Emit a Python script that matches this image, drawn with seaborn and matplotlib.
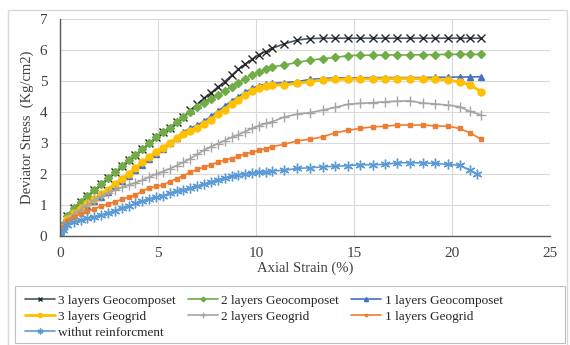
import numpy as np
import pandas as pd
import matplotlib
matplotlib.use('Agg')
import matplotlib.pyplot as plt
import seaborn as sns
from matplotlib.patches import Rectangle

# axial strain (%) shared by every test
strain = [0, 0.15, 0.35, 0.7, 1.05, 1.4, 1.75, 2.1, 2.45, 2.8, 3.15, 3.5, 3.85, 4.2, 4.55, 4.9,
          5.25, 5.6, 5.95, 6.3, 6.65, 7.0, 7.35, 7.7, 8.05, 8.4, 8.75, 9.1, 9.45, 9.8, 10.15, 10.5,
          10.8, 11.45, 12.1, 12.75, 13.4, 14.05, 14.7, 15.3, 15.95, 16.6, 17.2, 17.85, 18.5,
          19.15, 19.8, 20.4, 20.9, 21.5]
strain_unreinf = strain[:-1] + [21.25]

geocomp_3 = [0, 0.35, 0.65, 0.9, 1.1, 1.3, 1.48, 1.67, 1.87, 2.05, 2.25, 2.45, 2.62, 2.8, 3.0, 3.18,
             3.35, 3.5, 3.67, 3.84, 4.05, 4.25, 4.45, 4.62, 4.8, 4.98, 5.18, 5.38, 5.55, 5.7, 5.85, 5.95,
             6.05, 6.2, 6.32, 6.37, 6.38, 6.38, 6.38, 6.38, 6.38, 6.38, 6.38, 6.38, 6.38,
             6.38, 6.38, 6.38, 6.38, 6.38]
geocomp_2 = [0, 0.35, 0.65, 0.9, 1.1, 1.3, 1.48, 1.67, 1.87, 2.05, 2.25, 2.45, 2.62, 2.8, 3.0, 3.18,
             3.35, 3.5, 3.67, 3.83, 4.0, 4.15, 4.3, 4.42, 4.55, 4.68, 4.82, 4.95, 5.08, 5.2, 5.3, 5.38,
             5.45, 5.52, 5.6, 5.67, 5.72, 5.76, 5.82, 5.83, 5.83, 5.84, 5.84, 5.84, 5.85,
             5.85, 5.86, 5.86, 5.86, 5.86]
geocomp_1 = [0, 0.28, 0.5, 0.68, 0.83, 0.97, 1.12, 1.27, 1.42, 1.6, 1.77, 1.93, 2.12, 2.3, 2.48, 2.66,
             2.82, 3.0, 3.17, 3.36, 3.48, 3.58, 3.7, 3.86, 4.03, 4.19, 4.35, 4.5, 4.64, 4.76, 4.85, 4.9,
             4.92, 4.95, 4.98, 5.05, 5.08, 5.1, 5.1, 5.1, 5.11, 5.11, 5.11, 5.11, 5.11,
             5.12, 5.12, 5.13, 5.13, 5.14]
geogrid_3 = [0, 0.3, 0.55, 0.75, 0.9, 1.05, 1.2, 1.35, 1.5, 1.68, 1.85, 2.0, 2.2, 2.38, 2.55, 2.72,
             2.85, 3.0, 3.15, 3.3, 3.4, 3.48, 3.6, 3.75, 3.92, 4.08, 4.25, 4.4, 4.55, 4.68, 4.78, 4.83,
             4.86, 4.88, 4.92, 4.98, 5.03, 5.05, 5.06, 5.06, 5.07, 5.07, 5.08, 5.08, 5.07,
             5.06, 5.03, 4.97, 4.88, 4.65]
geogrid_2 = [0, 0.3, 0.5, 0.7, 0.85, 1.0, 1.15, 1.28, 1.38, 1.48, 1.57, 1.65, 1.72, 1.8, 1.9, 2.0,
             2.08, 2.17, 2.27, 2.38, 2.5, 2.63, 2.77, 2.88, 2.98, 3.08, 3.18, 3.27, 3.37, 3.47, 3.56, 3.63,
             3.68, 3.84, 3.93, 3.98, 4.06, 4.15, 4.25, 4.28, 4.3, 4.33, 4.35, 4.36, 4.29,
             4.26, 4.22, 4.17, 4.02, 3.9]
geogrid_1 = [0, 0.3, 0.5, 0.62, 0.72, 0.8, 0.88, 0.96, 1.03, 1.1, 1.18, 1.25, 1.32, 1.45, 1.55, 1.6,
             1.65, 1.75, 1.85, 1.95, 2.05, 2.15, 2.22, 2.3, 2.38, 2.45, 2.5, 2.57, 2.65, 2.7, 2.76, 2.82,
             2.88, 2.96, 3.07, 3.12, 3.2, 3.33, 3.41, 3.47, 3.52, 3.54, 3.58, 3.58, 3.58,
             3.55, 3.54, 3.47, 3.33, 3.12]
unreinforced = [0, 0.2, 0.35, 0.45, 0.52, 0.57, 0.62, 0.68, 0.75, 0.82, 0.9, 0.97, 1.05, 1.12, 1.2, 1.25,
                1.3, 1.38, 1.45, 1.5, 1.55, 1.6, 1.67, 1.75, 1.82, 1.88, 1.93, 1.97, 2.0, 2.02, 2.05, 2.07,
                2.1, 2.12, 2.18, 2.2, 2.23, 2.25, 2.27, 2.3, 2.3, 2.31, 2.36, 2.36, 2.36,
                2.34, 2.31, 2.28, 2.12, 2.01]

labels = ["3 layers Geocomposet", "2 layers Geocomposet", "1 layers Geocomposet",
          "3 layers Geogrid", "2 layers Geogrid", "1 layers Geogrid", "withut reinforcment"]

sns.set_style("whitegrid", {"grid.color": "#d9d9d9", "axes.edgecolor": "#595959"})
plt.rcParams['font.family'] = ['Liberation Serif', 'DejaVu Serif']

fig = plt.figure(figsize=(5.7, 3.45), dpi=100)
ax = fig.add_axes([60 / 570, 1 - 236 / 345, 490 / 570, 217 / 345])

# chart area frame and legend frame
fig.patches.append(Rectangle((8 / 570, -0.01), 559 / 570, 1 - 10 / 345 + 0.01,
                             transform=fig.transFigure, fill=False,
                             edgecolor="#d9d9d9", lw=1.0))
fig.patches.append(Rectangle((15 / 570, 2 / 345), 550 / 570, 57 / 345,
                             transform=fig.transFigure, fill=False,
                             edgecolor="#bfbfbf", lw=0.8))

styles = [
    (strain, geocomp_3, "#44546A", "x", 6, 1.2, "#262626"),
    (strain, geocomp_2, "#70AD47", "D", 4, 1.2, "#70AD47"),
    (strain, geocomp_1, "#4472C4", "^", 5, 1.2, "#4472C4"),
    (strain, geogrid_3, "#FFC000", "o", 5, 2.0, "#FFC000"),
    (strain, geogrid_2, "#A5A5A5", "+", 7, 1.2, "#A5A5A5"),
    (strain, geogrid_1, "#ED7D31", "s", 3.5, 1.2, "#ED7D31"),
    (strain_unreinf, unreinforced, "#5B9BD5", (6, 2, 0), 7, 1.2, "#5B9BD5"),
]

for (xs, ys, col, mk, ms, lw, mcol), lab in zip(styles, labels):
    df = pd.DataFrame({"strain": xs, "stress": ys})
    sns.lineplot(data=df, x="strain", y="stress", ax=ax, color=col, lw=lw,
                 marker=mk, markersize=ms, markeredgecolor=mcol, markerfacecolor=mcol,
                 markeredgewidth=1.0, label=lab, sort=False)

ax.set_xlim(0, 25)
ax.set_ylim(0, 7)
ax.set_xticks([0, 5, 10, 15, 20, 25])
ax.set_yticks(range(8))
ax.tick_params(axis="y", labelsize=11, colors="#404040", pad=9, length=0)
ax.tick_params(axis="x", labelsize=11, colors="#404040", pad=8, length=0)
ax.set_xlabel("Axial Strain (%)", fontsize=10.5, color="#404040", labelpad=1)
ax.set_ylabel("Deviator Stress  (Kg/cm2)", fontsize=10.5, color="#404040", labelpad=4)
for side in ["top", "right"]:
    ax.spines[side].set_visible(False)
for side in ["left", "bottom"]:
    ax.spines[side].set_color("#595959")
    ax.spines[side].set_linewidth(1.0)

handles, labs = ax.get_legend_handles_labels()
order = [0, 3, 6, 1, 4, 2, 5]
leg = ax.legend([handles[i] for i in order], [labs[i] for i in order], ncol=3,
                loc="upper left", bbox_to_anchor=(14 / 570, 1 - 284 / 345),
                bbox_transform=fig.transFigure, fontsize=9.5, frameon=False,
                handlelength=2.3, handletextpad=0.25, labelspacing=0.28,
                columnspacing=0.9, borderpad=0.3, markerscale=0.6,
                labelcolor="#262626")

fig.savefig("out.png", dpi=100)
